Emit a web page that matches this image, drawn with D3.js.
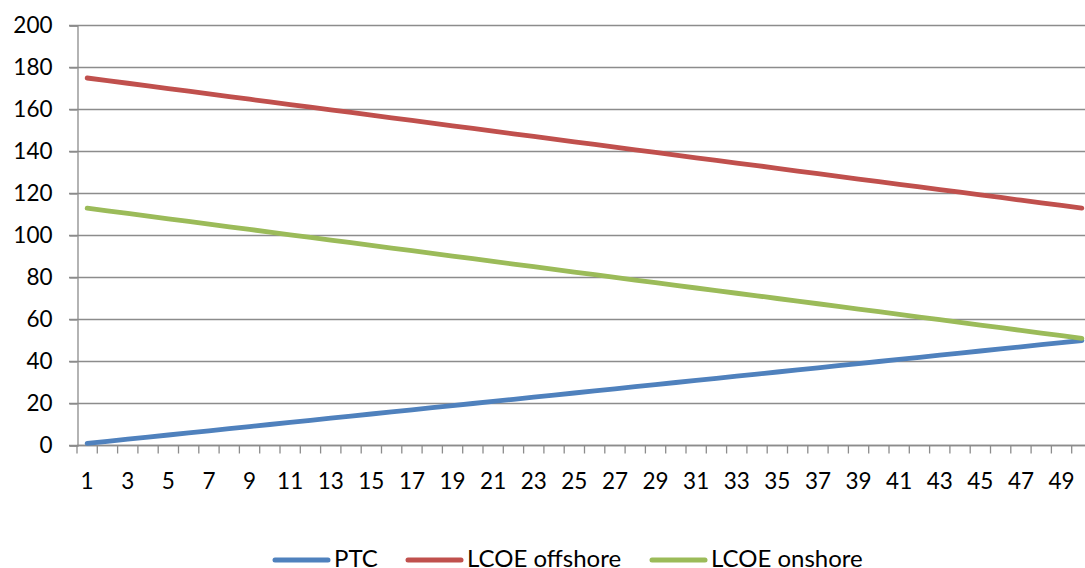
<!DOCTYPE html>
<html>
<head>
<meta charset="utf-8">
<script src="https://cdn.jsdelivr.net/npm/d3@7"></script>
<style>
  body { margin: 0; background: #fff; }
  text { font-family: Lato, "Open Sans", sans-serif; fill: #000; }
</style>
</head>
<body>
<div id="chart"></div>
<script>
// categories 1..50 (year index)
const categories = [1,2,3,4,5,6,7,8,9,10,11,12,13,14,15,16,17,18,19,20,21,22,23,24,25,
    26,27,28,29,30,31,32,33,34,35,36,37,38,39,40,41,42,43,44,45,46,47,48,49,50];

// series values
const ptc = [1,2,3,4,5,6,7,8,9,10,11,12,13,14,15,16,17,18,19,20,21,22,23,24,25,
    26,27,28,29,30,31,32,33,34,35,36,37,38,39,40,41,42,43,44,45,46,47,48,49,50];
const lcoeOffshore = [175.0,173.7,172.5,171.2,169.9,168.7,167.4,166.1,164.9,163.6,
    162.3,161.1,159.8,158.6,157.3,156.0,154.8,153.5,152.2,151.0,
    149.7,148.4,147.2,145.9,144.6,143.4,142.1,140.8,139.6,138.3,
    137.0,135.8,134.5,133.3,132.0,130.7,129.5,128.2,126.9,125.7,
    124.4,123.1,121.9,120.6,119.3,118.1,116.8,115.5,114.3,113.0];
const lcoeOnshore = [113.0,111.7,110.5,109.2,107.9,106.7,105.4,104.1,102.9,101.6,
    100.3,99.1,97.8,96.6,95.3,94.0,92.8,91.5,90.2,89.0,
    87.7,86.4,85.2,83.9,82.6,81.4,80.1,78.8,77.6,76.3,
    75.0,73.8,72.5,71.3,70.0,68.7,67.5,66.2,64.9,63.7,
    62.4,61.1,59.9,58.6,57.3,56.1,54.8,53.5,52.3,51.0];

const seriesNames = ["PTC", "LCOE offshore", "LCOE onshore"];
const seriesValues = [ptc, lcoeOffshore, lcoeOnshore];
const yTicks = [0,20,40,60,80,100,120,140,160,180,200];
const colors = ["#4F81BD", "#C0504D", "#9BBB59"];

const W = 1085, H = 568;
const svg = d3.select("#chart").append("svg")
    .attr("width", W).attr("height", H);

// scales
const x = d3.scaleBand().domain(categories).range([77, 1092]).padding(0);
const y = d3.scaleLinear().domain([0, 200]).range([445.5, 25.5]);

// horizontal gridlines
svg.append("g").selectAll("line")
    .data(yTicks)
    .enter().append("line")
    .attr("x1", 69).attr("x2", 1092)
    .attr("y1", d => y(d)).attr("y2", d => y(d))
    .attr("stroke", "#8c8c8c").attr("stroke-width", 1.3);

// y axis
const yAxis = svg.append("g")
    .attr("transform", "translate(77.5,0)")
    .call(d3.axisLeft(y).tickValues(yTicks).tickSize(8).tickPadding(17));
yAxis.select(".domain").attr("stroke", "#8c8c8c").attr("stroke-width", 1.3);
yAxis.selectAll(".tick line").attr("stroke", "#8c8c8c").attr("stroke-width", 1.3);
yAxis.selectAll(".tick text")
    .style("font-size", "22.5px");

// x axis: ticks at band boundaries, labels on odd categories
const xAxis = svg.append("g").attr("transform", "translate(0,445.5)");
xAxis.append("line")
    .attr("x1", 77).attr("x2", 1092)
    .attr("stroke", "#8c8c8c").attr("stroke-width", 1.3);
xAxis.selectAll(".xtick")
    .data(categories.concat([51]))
    .enter().append("line")
    .attr("class", "xtick")
    .attr("x1", d => d <= 50 ? x(d) : x(50) + x.bandwidth())
    .attr("x2", d => d <= 50 ? x(d) : x(50) + x.bandwidth())
    .attr("y1", 0).attr("y2", 8)
    .attr("stroke", "#8c8c8c").attr("stroke-width", 1.3);
xAxis.selectAll(".xlabel")
    .data(categories.filter(d => d % 2 === 1))
    .enter().append("text")
    .attr("class", "xlabel")
    .attr("text-anchor", "middle")
    .attr("x", d => x(d) + x.bandwidth() / 2)
    .attr("y", 43)
    .style("font-size", "22.5px")
    .text(d => d);

// series lines
const line = d3.line()
    .x((d, i) => x(categories[i]) + x.bandwidth() / 2)
    .y(d => y(d));

svg.append("g").selectAll("path")
    .data(seriesValues)
    .enter().append("path")
    .attr("d", d => line(d))
    .attr("fill", "none")
    .attr("stroke", (d, i) => colors[i])
    .attr("stroke-width", 4.8)
    .attr("stroke-linecap", "round")
    .attr("stroke-linejoin", "round");

// legend
const legendX = [273, 406, 650];
const legend = svg.append("g").attr("transform", "translate(0,560)");
const items = legend.selectAll("g")
    .data(seriesNames)
    .enter().append("g")
    .attr("transform", (d, i) => "translate(" + legendX[i] + ",0)");
items.append("line")
    .attr("x1", 2).attr("x2", 55)
    .attr("stroke", (d, i) => colors[i])
    .attr("stroke-width", 5)
    .attr("stroke-linecap", "round");
items.append("text")
    .attr("x", 61)
    .attr("y", 7)
    .style("font-size", "24px")
    .text(d => d);
</script>
</body>
</html>
